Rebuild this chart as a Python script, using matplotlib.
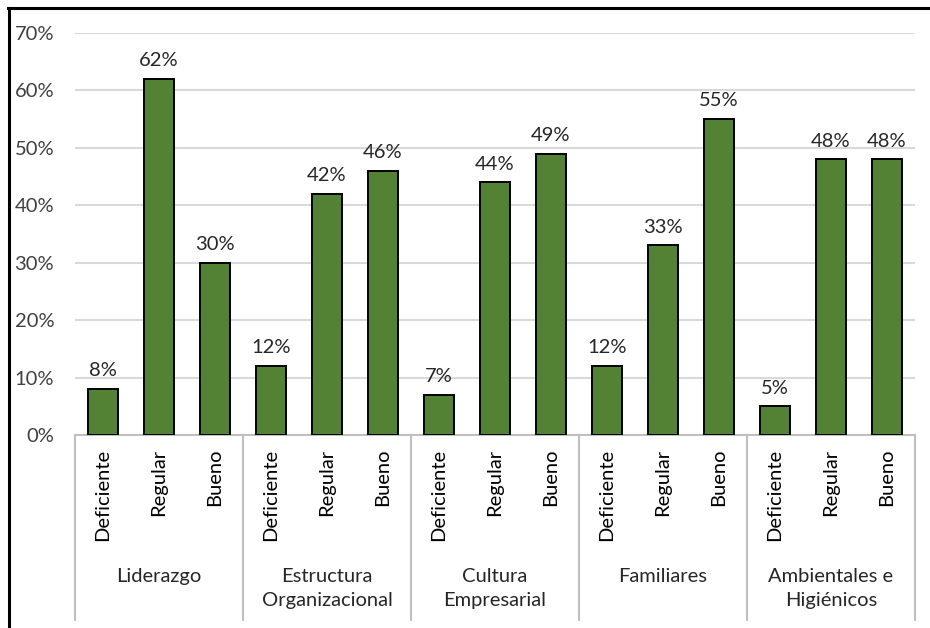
import matplotlib.pyplot as plt
import matplotlib.transforms as mtransforms
from matplotlib.lines import Line2D

# data
groups = ['Liderazgo', 'Estructura\nOrganizacional', 'Cultura\nEmpresarial',
          'Familiares', 'Ambientales e\nHigiénicos']
levels = ['Deficiente', 'Regular', 'Bueno']
liderazgo = [8, 62, 30]
estructura = [12, 42, 46]
cultura = [7, 44, 49]
familiares = [12, 33, 55]
ambientales = [5, 48, 48]
yticks = [0, 10, 20, 30, 40, 50, 60, 70]

plt.rcParams['font.family'] = ['Lato', 'DejaVu Sans']
W, H = 930, 628
fs = 14.5
fig = plt.figure(figsize=(W / 100, H / 100), dpi=100)
ax = fig.add_axes([75 / W, 1 - 435 / H, (915 - 75) / W, (435 - 33) / H])

series = [liderazgo, estructura, cultura, familiares, ambientales]
vals = [v for s in series for v in s]
xs = [i + 0.5 for i in range(len(vals))]
bars = ax.bar(xs, vals, width=0.54, color='#548235', edgecolor='black',
              linewidth=1.4, zorder=3)
for x, v in zip(xs, vals):
    ax.annotate('%d%%' % v, (x, v), xytext=(0, 7), textcoords='offset points',
                ha='center', va='bottom', fontsize=fs, color='#262626')

ax.set_xlim(0, len(vals))
ax.set_ylim(0, 70)
ax.set_yticks(yticks)
ax.set_yticklabels(['%d%%' % t for t in yticks], fontsize=fs, color='#404040')
ax.yaxis.grid(True, color='#d9d9d9', linewidth=1.5, zorder=0)
ax.tick_params(axis='y', length=0, pad=15)
ax.set_xticks([])
for s in ['top', 'right', 'left']:
    ax.spines[s].set_visible(False)
ax.spines['bottom'].set_color('#bfbfbf')
ax.spines['bottom'].set_linewidth(1.5)

# multi-level category axis
trans = mtransforms.blended_transform_factory(ax.transData, fig.transFigure)
for k in range(len(groups) + 1):
    ax.add_line(Line2D([3 * k, 3 * k], [1 - 435 / H, 1 - 620 / H], transform=trans,
                       color='#bfbfbf', linewidth=1.5, clip_on=False))
for x, i in zip(xs, range(len(vals))):
    ax.text(x, 1 - 449 / H, levels[i % 3], transform=trans, rotation=90,
            ha='center', va='top', fontsize=fs, color='black')
for k, g in enumerate(groups):
    ax.text(3 * k + 1.5, 1 - 568 / H, g, transform=trans, ha='center', va='top',
            fontsize=fs, color='#262626', linespacing=1.5)

# outer border (left and top)
fig.add_artist(Line2D([8.5 / W, 8.5 / W], [0, 1 - 7.5 / H], transform=fig.transFigure,
                      color='black', linewidth=2.2))
fig.add_artist(Line2D([7.5 / W, 1], [1 - 7.5 / H, 1 - 7.5 / H], transform=fig.transFigure,
                      color='black', linewidth=2.2))

fig.savefig('out.png', dpi=100)
